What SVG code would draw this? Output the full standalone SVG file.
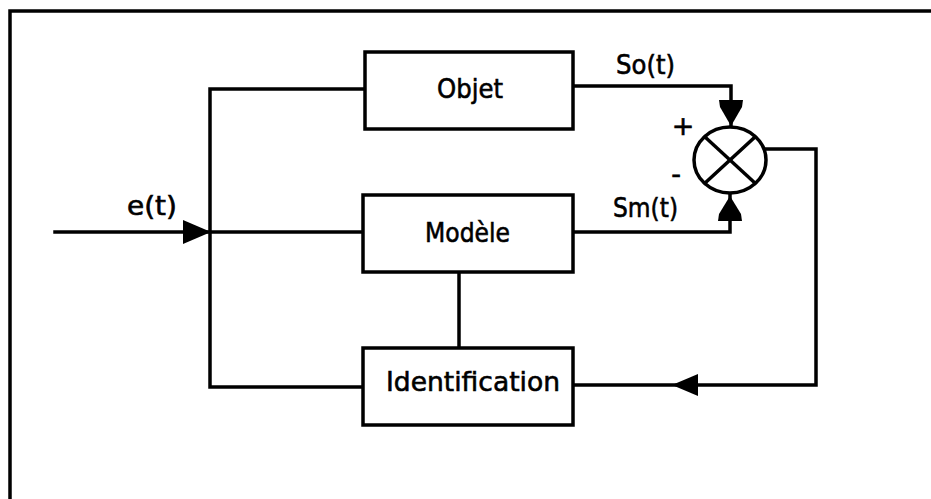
<svg xmlns="http://www.w3.org/2000/svg" width="931" height="499" viewBox="0 0 931 499">
<style>
.ln{fill:none;stroke:#000;stroke-width:3.5;stroke-linecap:square}
.box{fill:#fff;stroke:#000;stroke-width:3.5}
.t{font-family:"DejaVu Sans",sans-serif;font-size:27px;fill:#000;stroke:#000;stroke-width:0.6}
.ah{fill:#000;stroke:none}
</style>
<rect width="931" height="499" fill="#fff"/>
<g id="frame">
<polyline class="ln" points="10,499 10,11 931,11"/>
</g>
<g id="connectors">
<polyline class="ln" points="55,232 363,232"/>
<polyline class="ln" points="365,89 210,89 210,387 363,387"/>
<polyline class="ln" points="573,86 731,86 731,126"/>
<polyline class="ln" points="573,232 730,232 730,193"/>
<polyline class="ln" points="764,149 816,149 816,385 573,385"/>
<line class="ln" x1="459" y1="272" x2="459" y2="348"/>
<polygon class="ah" points="183,220 211,232 183,244"/>
<polygon class="ah" points="719,100 743,100 742,107 731,126 720,107"/>
<polygon class="ah" points="718,221 742,221 741,214 730,196 719,214"/>
<polygon class="ah" points="672,385 698,374 698,396"/>
</g>
<g id="objet">
<rect class="box" x="365" y="52" width="208" height="77"/>
<text class="t" x="437" y="98" textLength="66" lengthAdjust="spacingAndGlyphs">Objet</text>
</g>
<g id="modele">
<rect class="box" x="363" y="195" width="210" height="77"/>
<text class="t" x="425" y="242" textLength="85" lengthAdjust="spacingAndGlyphs">Modèle</text>
</g>
<g id="identification">
<rect class="box" x="363" y="348" width="210" height="77"/>
<text class="t" x="386" y="391" textLength="174" lengthAdjust="spacingAndGlyphs">Identification</text>
</g>
<g id="comparator">
<ellipse class="box" cx="730" cy="160" rx="36" ry="33"/>
<line class="ln" x1="705" y1="137" x2="755" y2="183"/>
<line class="ln" x1="755" y1="137" x2="705" y2="183"/>
</g>
<g id="labels">
<text class="t" x="127" y="215" textLength="50" lengthAdjust="spacingAndGlyphs">e(t)</text>
<text class="t" x="616" y="74" textLength="59" lengthAdjust="spacingAndGlyphs">So(t)</text>
<text class="t" x="613" y="217" textLength="65" lengthAdjust="spacingAndGlyphs">Sm(t)</text>
<text class="t" x="683" y="135" text-anchor="middle" font-size="22">+</text>
<text class="t" x="676" y="183" text-anchor="middle" font-size="22">-</text>
</g>
</svg>
